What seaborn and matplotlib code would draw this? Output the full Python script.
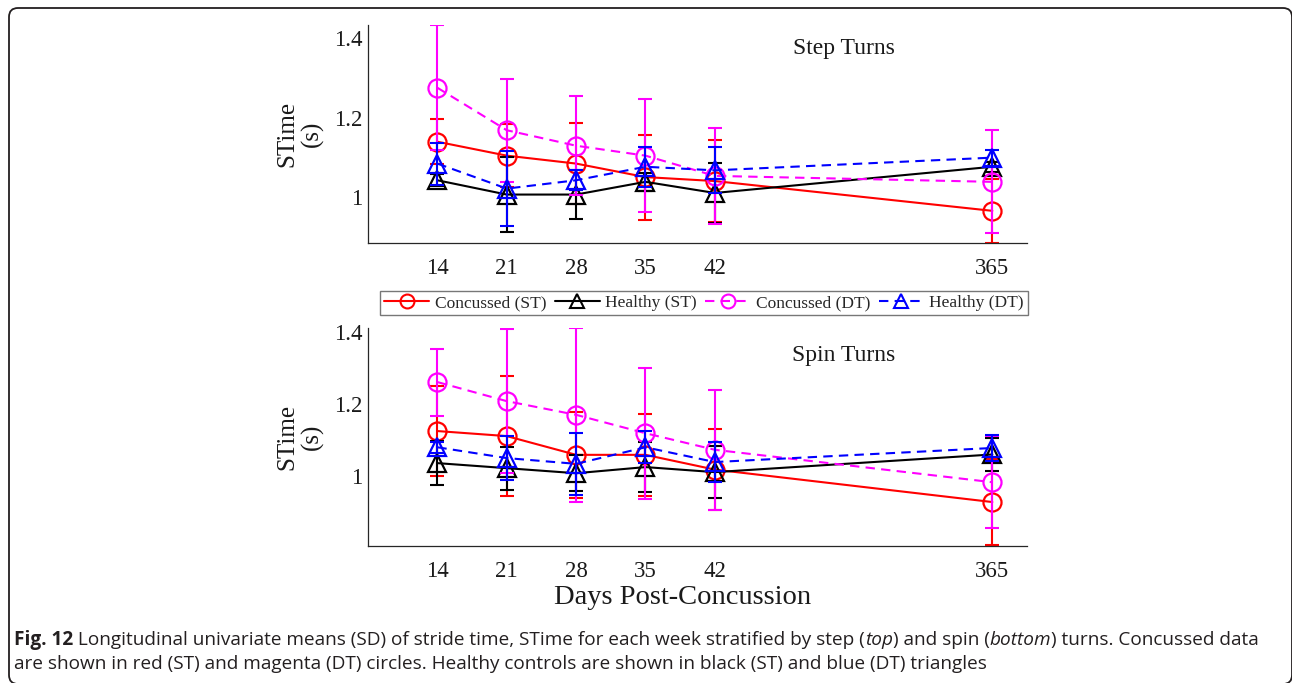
import numpy as np
import pandas as pd
import matplotlib
matplotlib.use("Agg")
import matplotlib.pyplot as plt
import seaborn as sns
from matplotlib.lines import Line2D
from matplotlib.patches import FancyBboxPatch
from matplotlib.transforms import IdentityTransform
from matplotlib import font_manager

# ---------------- data ----------------
days = [14, 21, 28, 35, 42, 365]
day_labels = ["14", "21", "28", "35", "42", "365"]
series_names = ["Concussed (ST)", "Healthy (ST)", "Concussed (DT)", "Healthy (DT)"]

# Step turns
step_conc_st = [1.139, 1.104, 1.084, 1.050, 1.040, 0.965]
step_conc_st_sd = [0.057, 0.080, 0.103, 0.107, 0.104, 0.080]
step_healthy_st = [1.042, 1.006, 1.006, 1.038, 1.010, 1.076]
step_healthy_st_sd = [0.015, 0.095, 0.062, 0.022, 0.075, 0.012]
step_conc_dt = [1.275, 1.168, 1.129, 1.104, 1.053, 1.038]
step_conc_dt_sd = [0.157, 0.130, 0.125, 0.142, 0.120, 0.130]
step_healthy_dt = [1.084, 1.021, 1.042, 1.076, 1.067, 1.099]
step_healthy_dt_sd = [0.053, 0.095, 0.025, 0.050, 0.058, 0.020]

# Spin turns
spin_conc_st = [1.125, 1.111, 1.059, 1.059, 1.018, 0.928]
spin_conc_st_sd = [0.125, 0.167, 0.120, 0.113, 0.113, 0.120]
spin_healthy_st = [1.036, 1.022, 1.008, 1.025, 1.011, 1.060]
spin_healthy_st_sd = [0.062, 0.060, 0.050, 0.070, 0.072, 0.046]
spin_conc_dt = [1.261, 1.208, 1.170, 1.119, 1.073, 0.983]
spin_conc_dt_sd = [0.093, 0.199, 0.241, 0.182, 0.167, 0.127]
spin_healthy_dt = [1.080, 1.050, 1.034, 1.080, 1.039, 1.078]
spin_healthy_dt_sd = [0.015, 0.060, 0.086, 0.045, 0.056, 0.035]

y_ticks = [1.0, 1.2, 1.4]
y_tick_labels = ["1", "1.2", "1.4"]

# ---------------- style ----------------
sns.set_theme(style="white")
plt.rcParams["font.family"] = ["Liberation Serif", "DejaVu Serif"]
plt.rcParams["axes.edgecolor"] = "#262626"

W, H = 1292, 683
fig = plt.figure(figsize=(W / 100, H / 100), dpi=100)
fig.patch.set_facecolor("white")

# plotting positions for the (non-linear) day axis
x_pos = [1, 2, 3, 4, 5, 9]

colors = ["#ff0000", "#000000", "#ff00ff", "#0000ff"]
markers = ["o", "^", "o", "^"]
linestyles = ["-", "-", (0, (4.5, 3)), (0, (4.5, 3))]


def panel(rect, data, ylim, title, title_xy):
    ax = fig.add_axes(rect)
    for i, (vals, sd) in enumerate(data):
        c = colors[i]
        ax.errorbar(x_pos, vals, yerr=sd, fmt="none", ecolor=c,
                    elinewidth=1.5, capsize=5, capthick=1.5, zorder=2 + 2 * i)
        sns.lineplot(x=x_pos, y=vals, ax=ax, color=c, marker=markers[i],
                     markersize=13, markerfacecolor="none",
                     markeredgecolor=c, markeredgewidth=1.6,
                     linewidth=1.5, linestyle=linestyles[i],
                     zorder=3 + 2 * i)
    ax.set_xlim(0, 9.5)
    ax.set_ylim(*ylim)
    ax.set_xticks(x_pos)
    ax.set_xticklabels(day_labels)
    ax.set_yticks(y_ticks)
    ax.set_yticklabels(y_tick_labels)
    ax.tick_params(axis="both", direction="in", length=5, width=0.9,
                   colors="#262626", labelsize=16.5, labelcolor="#1a1a1a")
    ax.tick_params(axis="x", pad=11)
    ax.tick_params(axis="y", pad=4)
    for s in ["top", "right"]:
        ax.spines[s].set_visible(False)
    for s in ["left", "bottom"]:
        ax.spines[s].set_linewidth(0.9)
    ax.set_xlabel("")
    ax.set_ylabel("")
    ax.text(title_xy[0], title_xy[1], title, transform=ax.transAxes,
            ha="center", va="center", fontsize=17, color="#1a1a1a")
    ax.text(-0.103, 0.5, "STime\n(s)", transform=ax.transAxes, rotation=90,
            ha="center", va="center", multialignment="center",
            fontsize=18, color="#1a1a1a", linespacing=1.1)
    return ax


left = 368 / W
width = (1027 - 368) / W
height = 218 / H

ax1 = panel([left, (H - 243) / H, width, height],
            [(step_conc_st, step_conc_st_sd), (step_healthy_st, step_healthy_st_sd),
             (step_conc_dt, step_conc_dt_sd), (step_healthy_dt, step_healthy_dt_sd)],
            (0.884, 1.433), "Step Turns", (0.722, 0.89))
ax2 = panel([left, (H - 546) / H, width, height],
            [(spin_conc_st, spin_conc_st_sd), (spin_healthy_st, spin_healthy_st_sd),
             (spin_conc_dt, spin_conc_dt_sd), (spin_healthy_dt, spin_healthy_dt_sd)],
            (0.806, 1.411), "Spin Turns", (0.722, 0.876))

ax2.text(0.477, -0.234, "Days Post-Concussion", transform=ax2.transAxes,
         ha="center", va="center", fontsize=20.5, color="#1a1a1a")

# legend
handles = [Line2D([], [], color=colors[i], marker=markers[i], markersize=10,
                  markerfacecolor="none", markeredgewidth=1.5, linewidth=1.5,
                  linestyle=linestyles[i]) for i in range(4)]
leg = fig.legend(handles, series_names, loc="center",
                 bbox_to_anchor=(704 / W, 1 - 303 / H), ncol=4,
                 frameon=True, fancybox=False, edgecolor="#555555",
                 fontsize=12.5, handlelength=2.6, handletextpad=0.3,
                 columnspacing=0.5, borderpad=0.25, borderaxespad=0)
leg.get_frame().set_linewidth(1.0)

# frame around figure + caption
fig.add_artist(FancyBboxPatch((9, -1), 1283, 676,
                              boxstyle="round,pad=0,rounding_size=9",
                              transform=IdentityTransform(), fill=False,
                              lw=1.3, ec="#231f20"))

cap_family = "Open Sans"
for cand in ["Liberation Sans Narrow", "Open Sans"]:
    try:
        font_manager.findfont(cand, fallback_to_default=False)
        cap_family = cand
        break
    except Exception:
        pass

cap_lines = [
    [("Fig. 12", "bold", "normal"),
     (" Longitudinal univariate means (SD) of stride time, STime for each week stratified by step (", "normal", "normal"),
     ("top", "normal", "italic"),
     (") and spin (", "normal", "normal"),
     ("bottom", "normal", "italic"),
     (") turns. Concussed data", "normal", "normal")],
    [("are shown in red (ST) and magenta (DT) circles. Healthy controls are shown in black (ST) and blue (DT) triangles", "normal", "normal")],
]
cap_baselines = [645, 669]

fig.canvas.draw()
renderer = fig.canvas.get_renderer()


def draw_line(pieces, y_px, size):
    x = 14
    texts = []
    for txt, wt, st in pieces:
        t = fig.text(x / W, 1 - y_px / H, txt, fontsize=size, fontweight=wt,
                     fontstyle=st, family=[cap_family, "DejaVu Sans"],
                     color="#231f20", ha="left", va="baseline")
        bb = t.get_window_extent(renderer)
        x = bb.x1
        texts.append(t)
    return texts, x


# fit first caption line to the reference width
size = 13.0
texts, xend = draw_line(cap_lines[0], cap_baselines[0], size)
target = 1256
scale = (target - 14) / (xend - 14)
for t in texts:
    t.remove()
size = size * scale
draw_line(cap_lines[0], cap_baselines[0], size)
draw_line(cap_lines[1], cap_baselines[1], size)

fig.savefig("out.png", dpi=100)
